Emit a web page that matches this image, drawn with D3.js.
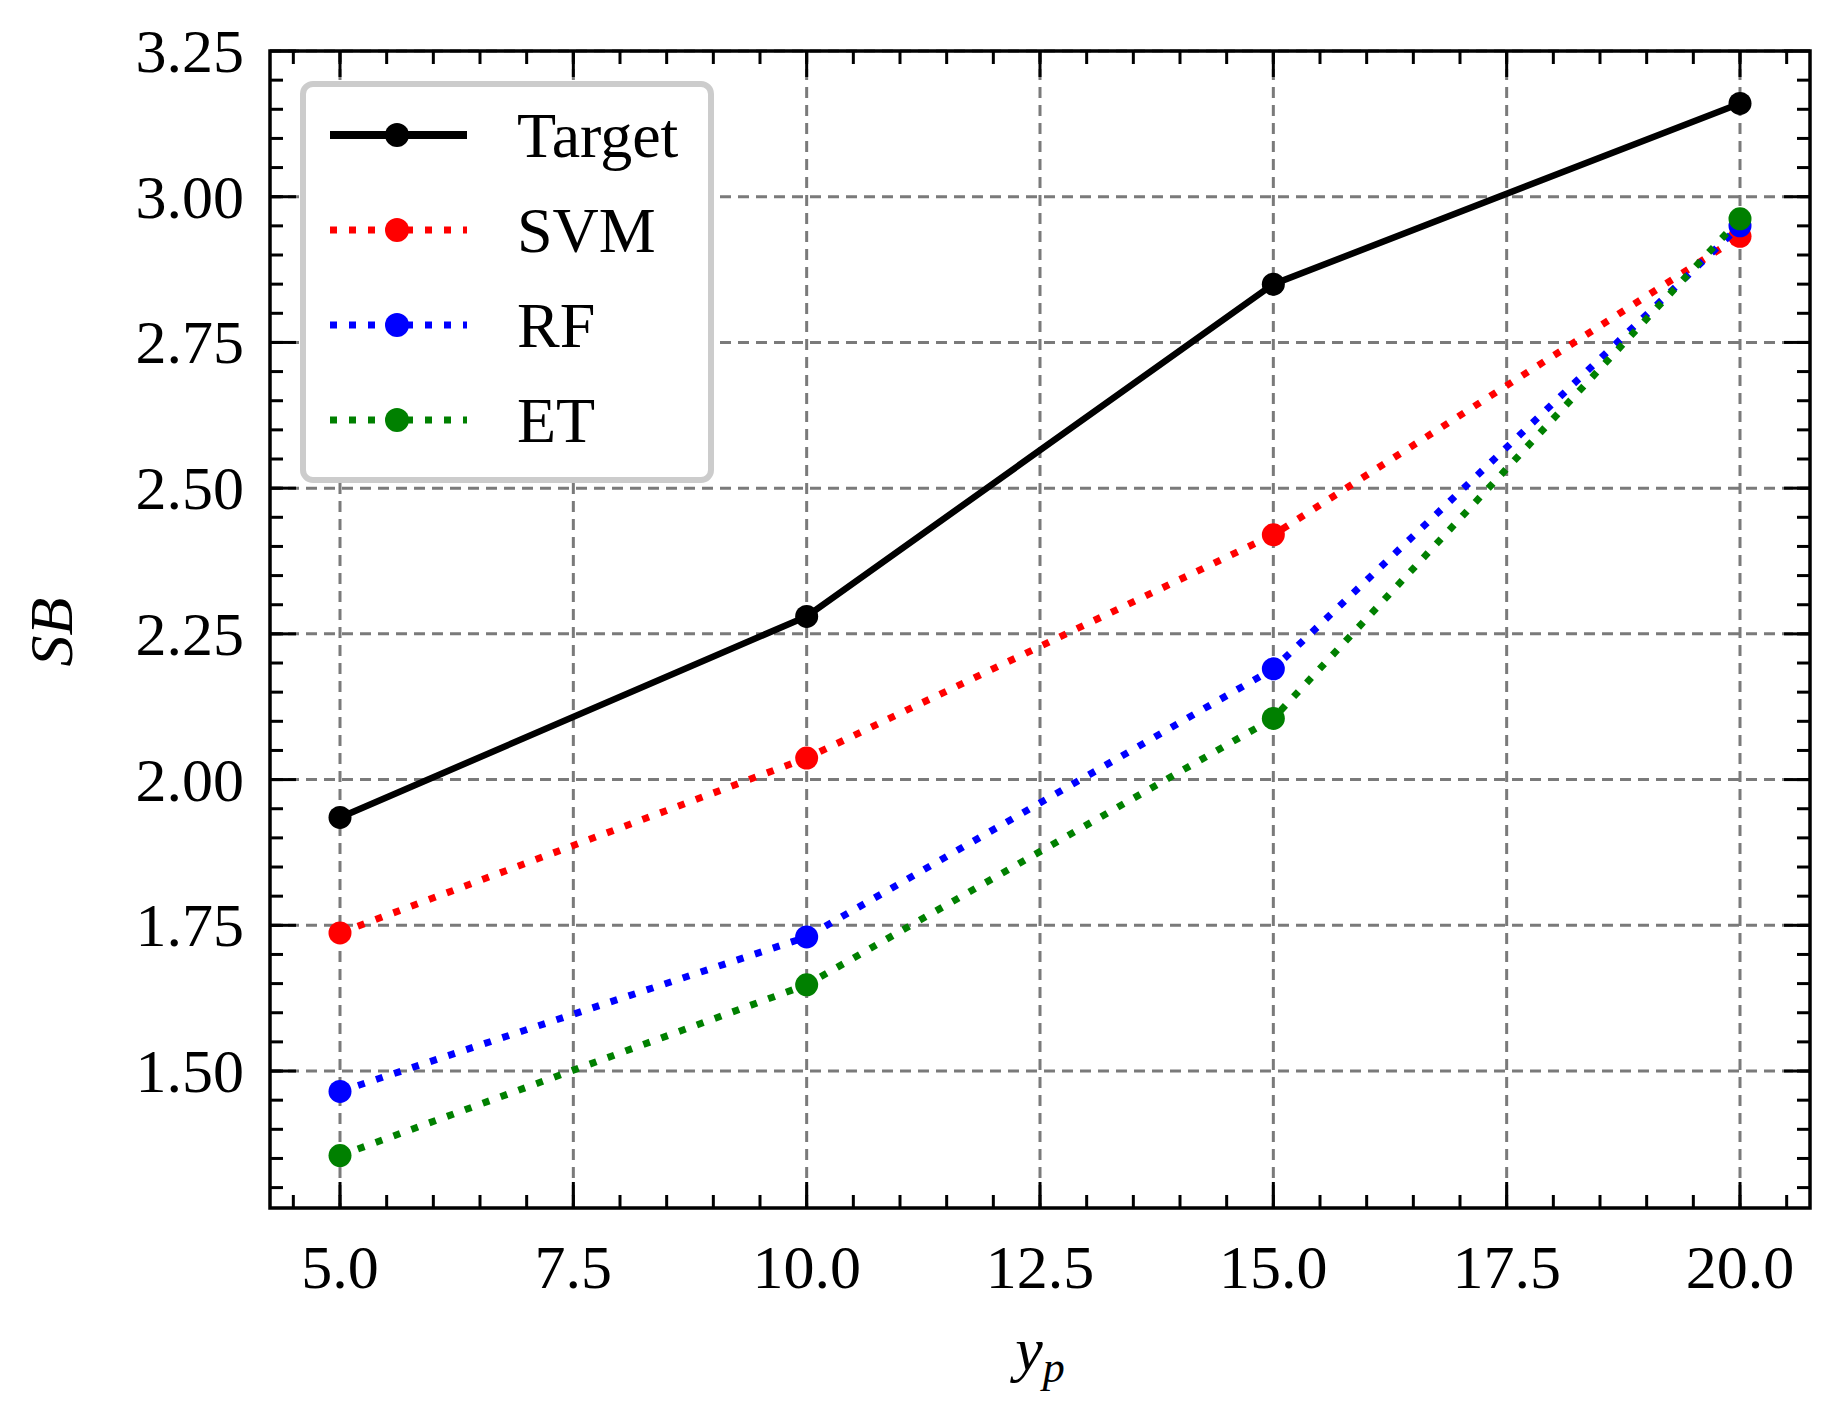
<!DOCTYPE html>
<html><head><meta charset="utf-8">
<script src="https://cdn.jsdelivr.net/npm/d3@7"></script>
<style>body{margin:0;background:#fff}svg{display:block}</style>
</head><body>
<svg id="chart" width="1834" height="1418"></svg>
<script>
// data
const xs = [5, 10, 15, 20]
const target = [1.935, 2.28, 2.85, 3.16]
const svm = [1.737, 2.037, 2.42, 2.932]
const rf = [1.465, 1.73, 2.19, 2.95]
const et = [1.355, 1.648, 2.105, 2.962]
const xTicks = [5, 7.5, 10, 12.5, 15, 17.5, 20]
const yTicks = [1.5, 1.75, 2.0, 2.25, 2.5, 2.75, 3.0, 3.25]

const series = [
  {name: "Target", vals: target, color: "#000", dash: null},
  {name: "SVM", vals: svm, color: "#ff0000", dash: "7,12"},
  {name: "RF", vals: rf, color: "#0000ff", dash: "7,12"},
  {name: "ET", vals: et, color: "#008000", dash: "7,12"}
]

const L = 270, R = 1810, T = 51, B = 1208
const font = "'Liberation Serif', 'DejaVu Serif', serif"
const x = d3.scaleLinear().domain([4.25, 20.75]).range([L, R])
const y = d3.scaleLinear().domain([1.265, 3.25]).range([B, T])
const svg = d3.select("#chart")

/* grid */
const g = svg.append("g")
g.selectAll(".gx").data(xTicks).enter().append("line")
  .attr("x1", d => x(d)).attr("x2", d => x(d)).attr("y1", T).attr("y2", B)
  .attr("stroke", "#7a7a7a").attr("stroke-width", 3).attr("stroke-dasharray", "11,7")
g.selectAll(".gy").data(yTicks).enter().append("line")
  .attr("y1", d => y(d)).attr("y2", d => y(d)).attr("x1", L).attr("x2", R)
  .attr("stroke", "#7a7a7a").attr("stroke-width", 3).attr("stroke-dasharray", "11,7")

/* lines + markers */
const line = d3.line().x((d, i) => x(xs[i])).y(d => y(d))
series.forEach(function(s){
  svg.append("path").datum(s.vals).attr("d", line)
    .attr("fill", "none").attr("stroke", s.color).attr("stroke-width", s.dash ? 7 : 6.5)
    .attr("stroke-dasharray", s.dash)
  svg.selectAll(null).data(s.vals).enter().append("circle")
    .attr("cx", (d, i) => x(xs[i])).attr("cy", d => y(d)).attr("r", 11.5).attr("fill", s.color)
})

/* frame and inward ticks */
svg.append("rect").attr("x", L).attr("y", T).attr("width", R - L).attr("height", B - T)
  .attr("fill", "none").attr("stroke", "#000").attr("stroke-width", 3.5)
const xMinor = d3.range(4.5, 20.75, 0.5), yMinor = d3.range(1.3, 3.25, 0.05)
function tickX(vals, len){
  vals.forEach(function(v){
    [[B, -len], [T, len]].forEach(function(p){
      svg.append("line").attr("x1", x(v)).attr("x2", x(v)).attr("y1", p[0]).attr("y2", p[0] + p[1])
        .attr("stroke", "#000").attr("stroke-width", 3)
    })
  })
}
function tickY(vals, len){
  vals.forEach(function(v){
    [[L, len], [R, -len]].forEach(function(p){
      svg.append("line").attr("y1", y(v)).attr("y2", y(v)).attr("x1", p[0]).attr("x2", p[0] + p[1])
        .attr("stroke", "#000").attr("stroke-width", 3)
    })
  })
}
tickX(xMinor, 13); tickX(xTicks, 26)
tickY(yMinor, 13); tickY(yTicks, 26)

/* tick labels */
svg.selectAll(".xl").data(xTicks).enter().append("text")
  .attr("x", d => x(d)).attr("y", 1288).attr("text-anchor", "middle")
  .attr("font-family", font).attr("font-size", 62).text(d => d.toFixed(1))
svg.selectAll(".yl").data(yTicks).enter().append("text")
  .attr("x", 244).attr("y", d => y(d) + 21).attr("text-anchor", "end")
  .attr("font-family", font).attr("font-size", 62).text(d => d.toFixed(2))

/* axis titles */
svg.append("text").attr("transform", "translate(72,632) rotate(-90)").attr("text-anchor", "middle")
  .attr("font-family", font).attr("font-size", 62).attr("font-style", "italic").text("SB")
const xt = svg.append("text").attr("x", 1040).attr("y", 1370).attr("text-anchor", "middle")
  .attr("font-family", font).attr("font-size", 62).attr("font-style", "italic")
xt.append("tspan").text("y")
xt.append("tspan").attr("font-size", 44).attr("dy", 12).text("p")

/* legend */
const lg = svg.append("g")
lg.append("rect").attr("x", 303).attr("y", 84).attr("width", 408).attr("height", 396)
  .attr("rx", 10).attr("fill", "#fff").attr("stroke", "#cccccc").attr("stroke-width", 6)
series.forEach(function(s, i){
  const ly = 135 + i * 95
  lg.append("line").attr("x1", 330).attr("x2", 467).attr("y1", ly).attr("y2", ly)
    .attr("stroke", s.color).attr("stroke-width", s.dash ? 7 : 8).attr("stroke-dasharray", s.dash)
  lg.append("circle").attr("cx", 397).attr("cy", ly).attr("r", 12).attr("fill", s.color)
  lg.append("text").attr("x", 517).attr("y", ly + 22).attr("font-family", font)
    .attr("font-size", 64).text(s.name)
})
</script>
</body></html>
